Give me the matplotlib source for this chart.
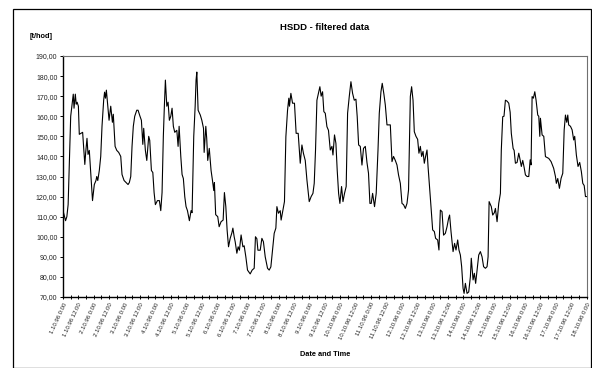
import matplotlib
matplotlib.use("Agg")
import matplotlib.pyplot as plt
from matplotlib.patches import Rectangle
from matplotlib.ticker import FixedLocator, MultipleLocator, FuncFormatter

plt.rcParams["font.family"] = ["Liberation Sans", "DejaVu Sans"]

# ------------------------------------------------------------------
# Data (hours since 1.10.96 0:00, flow in t/hod)
# ------------------------------------------------------------------
hours = [
    0, 2, 3, 4, 5.5, 6, 7.5, 8, 8.6, 9.6, 10.3, 11, 12, 12.7, 15.3, 17, 17.7,
    18.7, 19.5, 20.5, 21.6, 23, 24.4, 25.7, 26.3, 27.1, 28.3, 29.4, 30.4, 31.7,
    32.4, 33.1, 33.8, 35.9, 37.2, 38.5, 39.2, 40.6, 41.9, 43.4, 45, 46, 47.6,
    49.1, 50.7, 51.7, 52.8, 53.8, 54.8, 55.9, 57.5, 58.5, 60, 61.1, 62.2, 62.9,
    64.2, 65.3, 66.8, 67.6, 68.9, 70, 71, 72, 73.6, 75.1, 76.2, 77.2, 78.2, 79,
    79.8, 80.9, 81.9, 82.9, 84, 85, 86, 87.1, 88.7, 89.7, 90.5, 91.8, 92.8,
    93.8, 94.9, 95.9, 97, 98.5, 99.8, 100.6, 101.9, 103, 103.7, 104.3, 105.3,
    107, 108.2, 109.5, 110, 111.3, 112, 112.8, 114, 115.4, 116.5, 117.5, 118,
    119, 120.6, 121.7, 123.2, 124.8, 125.8, 126.9, 127.9, 129, 130.3, 131.6,
    132.4, 133.4, 134.2, 135.5, 136.5, 137.5, 138.8, 140.2, 141.2, 142.5,
    143.8, 145.9, 147.4, 149, 150, 151.1, 151.9, 153.7, 155, 156.2, 157.6,
    159.4, 160.7, 162, 163.6, 164.6, 165.9, 166.7, 167.9, 169.3, 170, 171.4,
    172.6, 173.7, 175, 176, 176.5, 177.6, 178.9, 180.4, 181.7, 183.3, 184.9,
    186.2, 187.4, 188.8, 190.1, 191.9, 193.4, 194.8, 195.8, 196.8, 197.9,
    199.1, 200.2, 201.2, 202.3, 203.3, 204.4, 205.7, 206.9, 208.3, 209.6,
    210.4, 211.6, 212.7, 213.7, 214.8, 215.8, 217.1, 218.2, 219.4, 220.7,
    221.8, 223.1, 224.4, 225.7, 227, 228.3, 229.3, 230.4, 231.7, 233, 234.2,
    235.6, 236.9, 238.1, 239.2, 240.2, 241.3, 242.8, 244.1, 245.5, 246.5,
    247.8, 248.8, 250.1, 251.2, 252.5, 255.1, 256.4, 257.6, 259, 260.3, 261.5,
    262.9, 264.2, 265.4, 266.8, 268.1, 269.3, 270.7, 271.7, 272.8, 273.8,
    275.1, 276.4, 277.4, 278.5, 279.5, 280.6, 281.6, 282.6, 283.7, 284.5,
    285.5, 286.8, 288.1, 289.4, 290.4, 292, 293, 294.1, 295.4, 296.6, 298,
    299.3, 300.5, 301.3, 302.4, 304, 305.2, 306.3, 307.6, 308.6, 309.7, 310.7,
    311.8, 312.6, 313.6, 314.9, 316.2, 317.5, 318.2, 319.6, 320.6, 321.6,
    322.7, 324, 325.3, 326.6, 327.8, 329.2, 330.5, 331.3, 332.1, 333.8, 334.9,
    336.2, 337, 338.3, 339.6, 340.9, 341.6, 342.7, 343.7, 344.8, 346.1, 347.4,
    348.5, 349.4, 350.8, 351.6, 352.6, 353.9, 355.2, 356.2, 357.2, 358.3,
    359.4, 360.4, 361.7, 363, 364.1, 364.8, 365.6, 366.6, 367.7, 368.7, 370,
    370.8, 371.6, 372.1, 373.4, 374.7, 376, 378.6, 380.4, 382.4, 383.8, 384.5,
    385.6, 386.9, 388.2, 389.5, 390.6, 391.6, 392.6, 393.4, 394.1, 395.5,
    396.8, 398, 398.8, 400.1, 401.4, 402.7, 404, 405.1, 406.2, 407.2, 408,
]
flow = [
    113, 108, 110, 116, 150, 160, 168, 171, 164, 171, 166, 167, 165, 151, 152,
    136, 142, 149, 141, 143, 132, 118, 126, 128, 130, 128, 133, 140, 155, 168,
    172, 169, 173, 158, 165, 157, 161, 145, 143, 142, 140, 131, 128, 127, 126,
    127, 130, 145, 155, 160, 163, 163, 160, 158, 146, 154, 143, 138, 150, 148,
    133, 132, 122, 116, 118, 118, 113, 122, 150, 165, 178, 165, 167, 158, 160,
    164, 155, 152, 153, 145, 155, 140, 131, 129, 120, 115, 113, 108, 113, 112,
    150, 165, 178, 182, 163, 160.6, 158, 154, 142, 155, 149, 138, 144, 133,
    128, 123, 127, 111, 110, 105, 107.5, 108.3, 122, 115, 103.4, 95, 99.2,
    101.9, 104.3, 100, 97.5, 91.8, 95, 93.3, 100.9, 95, 95.5, 90, 83.4, 81.5,
    83.4, 84.3, 100, 99, 93.3, 93.3, 99.2, 97.5, 90, 84.3, 83.4, 85, 95, 101.7,
    104.3, 115, 111.7, 113, 108.3, 113.3, 117.5, 149.8, 163, 169, 165, 171.4,
    166.5, 166.5, 151.5, 151.5, 136.6, 145.7, 141.5, 138, 128.3, 117.5, 120,
    121.6, 126.6, 143, 168, 171.4, 174.7, 170, 172.2, 162.3, 161.5, 154.8,
    153, 143.2, 145, 140.7, 150.7, 146.5, 133.2, 121.6, 116.6, 125, 117.5,
    121.6, 125, 161.5, 169.8, 177.2, 171.4, 168, 168.5, 159.8, 145.7, 145,
    135.7, 144, 145, 137, 131.6, 116.6, 116.6, 121.6, 115, 121.6, 143.2, 161.5,
    172.2, 176.4, 171, 165.6, 155.7, 155.7, 137.4, 140, 138, 135.7, 130.8,
    126.6, 116.6, 116, 114.1, 116.6, 123.3, 169.8, 174.7, 168, 152.3, 150,
    148.5, 141.6, 145, 140, 142.5, 136.6, 140, 143.2, 135, 126.6, 115, 103.4,
    102.6, 99.2, 98.4, 93.4, 113.3, 112.5, 100.8, 101.7, 105, 109.1, 110.8,
    102.6, 92.6, 96.7, 93.4, 98.4, 93.4, 90.9, 85.1, 74.3, 71.8, 76.8, 71.8,
    72.5, 80.1, 89.3, 78.5, 81.8, 76.8, 83.4, 90.9, 92.6, 90, 85.1, 84.3, 85.1,
    90, 117.5, 115, 110.8, 112, 114.1, 107.5, 116.6, 121.6, 143.2, 159.8, 160,
    168, 167.5, 166.5, 162, 151.5, 144, 143, 136.6, 137, 141.6, 138.5, 135,
    138, 134.5, 130.8, 130, 130, 138.3, 135.8, 169.8, 169, 172.2, 168, 160.6,
    160, 150, 159, 150.7, 150, 139.9, 139, 137.4, 134.1, 130, 126.6, 129,
    124.1, 129.1, 131.6, 153.2, 160.6, 157, 160.6, 155.7, 155, 153.2, 148.2,
    150, 140.7, 135, 137, 132.4, 126.6, 125.5, 120, 120,
]

# tick labels every 12 h, 1.10.96 0:00 .. 18.10.96 0:00
label_hours = list(range(0, 409, 12))
tick_labels = [f"{1 + h // 24}.10.96 {h % 24}:00" for h in label_hours]
y_ticks = list(range(70, 191, 10))

# ------------------------------------------------------------------
# Plot
# ------------------------------------------------------------------
fig = plt.figure(figsize=(5.92, 3.68), dpi=100)
ax = fig.add_axes([63 / 592, 1 - 297 / 368, (586.5 - 63) / 592, (297 - 56) / 368])

ax.plot(hours, flow, color="black", linewidth=0.8)

ax.set_xlim(0, 408)
ax.set_ylim(70, 190)
ax.yaxis.set_major_locator(FixedLocator(y_ticks))
ax.yaxis.set_major_formatter(FuncFormatter(lambda v, p: f"{v:.2f}".replace(".", ",")))
ax.xaxis.set_major_locator(FixedLocator(label_hours))
ax.xaxis.set_minor_locator(MultipleLocator(6))
ax.set_xticklabels(tick_labels, rotation=65, ha="right", va="top",
                   rotation_mode="anchor", fontsize=4.3, color="#222222")

ax.tick_params(axis="y", labelsize=5, length=2.5, width=0.7, pad=1.5,
               labelcolor="#222222")
ax.tick_params(axis="x", which="both", direction="inout", length=3, width=0.7, pad=2)

for side in ("top", "right"):
    ax.spines[side].set_color("#707070")
    ax.spines[side].set_linewidth(0.8)
for side in ("left", "bottom"):
    ax.spines[side].set_color("black")
    ax.spines[side].set_linewidth(1.0)

fig.text(325 / 592, 1 - 28 / 368, "HSDD - filtered data", ha="center", va="center",
         fontsize=6.8, fontweight="bold")
fig.text(30 / 592, 1 - 37 / 368, "[t/hod]", ha="left", va="center",
         fontsize=5.3, fontweight="bold")
fig.text(325 / 592, 1 - 355 / 368, "Date and Time", ha="center", va="center",
         fontsize=5.3, fontweight="bold")

# chart-area border
fig.patches.append(Rectangle((12.5 / 592, 0.5 / 368), (591 - 12.5) / 592, (359 - 0.5) / 368,
                             transform=fig.transFigure, fill=False,
                             edgecolor="black", linewidth=0.9))

fig.savefig("out.png", dpi=100)
